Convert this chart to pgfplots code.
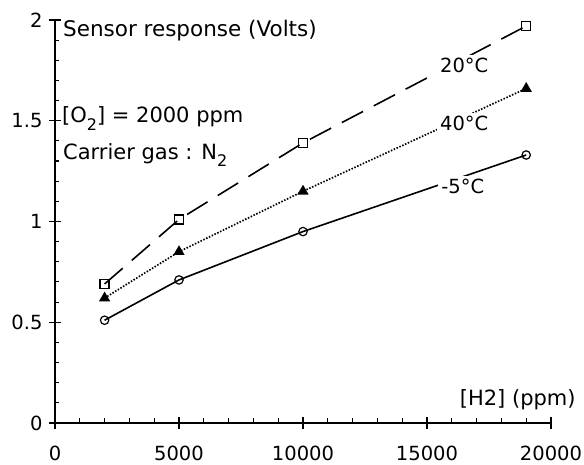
\documentclass[border=0pt]{standalone}
\usepackage{fontspec}
\setmainfont{DejaVu Sans}
\usepackage{pgfplots}
\pgfplotsset{compat=1.18}
\begin{document}
\fontsize{19}{23}\selectfont
\begin{tikzpicture}
\path[use as bounding box] (-55pt,-42pt) rectangle (529pt,423pt);
\begin{axis}[
  scale only axis, width=496pt, height=403pt,
  xmin=0, xmax=20000, ymin=0, ymax=2,
  axis lines*=left,
  axis line style={line width=1.3pt},
  xtick={0,5000,10000,15000,20000},
  ytick={0,0.5,1,1.5,2},
  minor x tick num=4, minor y tick num=4,
  tick align=center,
  major tick length=12pt, minor tick length=5pt,
  tick style={line width=1.1pt, black},
  minor x tick style={yshift=2pt},
  minor y tick style={xshift=2pt},
  scaled x ticks=false,
  x tick label style={/pgf/number format/1000 sep={}, yshift=-10pt},
  /pgf/number format/assume math mode=true,
  tick label style={font=\fontsize{19.5}{23}\selectfont},
  clip=false,
]
\addplot[black, line width=1.6pt, dash pattern=on 24pt off 12pt, mark=square, mark size=4.5pt, mark options={solid, line width=1.2pt}]
  coordinates {(2000,0.69) (5000,1.01) (10000,1.39) (19000,1.97)};
\addplot[black, line width=1.7pt, dash pattern=on 1.5pt off 1.6pt, mark=triangle*, mark size=4.8pt, mark options={solid}]
  coordinates {(2000,0.62) (5000,0.85) (10000,1.15) (19000,1.66)};
\addplot[black, line width=1.6pt, mark=o, mark size=4.2pt, mark options={solid, line width=1.2pt}]
  coordinates {(2000,0.51) (5000,0.71) (10000,0.95) (19000,1.33)};

\node[anchor=base west, inner sep=0pt, font=\fontsize{21.5}{25}\selectfont] at (axis cs:320,1.92) {Sensor response (Volts)};
\node[anchor=base west, inner sep=0pt, font=\fontsize{21}{25}\selectfont] at (axis cs:280,1.49) {[O\raisebox{-0.35em}{\fontsize{16}{18}\selectfont 2}] = 2000 ppm};
\node[anchor=base west, inner sep=0pt, font=\fontsize{21}{25}\selectfont] at (axis cs:320,1.31) {Carrier gas : N\raisebox{-0.35em}{\fontsize{16}{18}\selectfont 2}};
\node[anchor=base east, inner sep=0pt, font=\fontsize{21}{25}\selectfont] at (axis cs:21000,0.085) {[H2] (ppm)};
\node[anchor=base west, fill=white, inner sep=3pt, font=\fontsize{19.5}{23}\selectfont] at (axis cs:15400,1.74) {20°C};
\node[anchor=base west, fill=white, inner sep=3pt, font=\fontsize{19.5}{23}\selectfont] at (axis cs:15400,1.45) {40°C};
\node[anchor=base west, fill=white, inner sep=3pt, font=\fontsize{19.5}{23}\selectfont] at (axis cs:15450,1.14) {-5°C};
\end{axis}
\end{tikzpicture}
\end{document}
